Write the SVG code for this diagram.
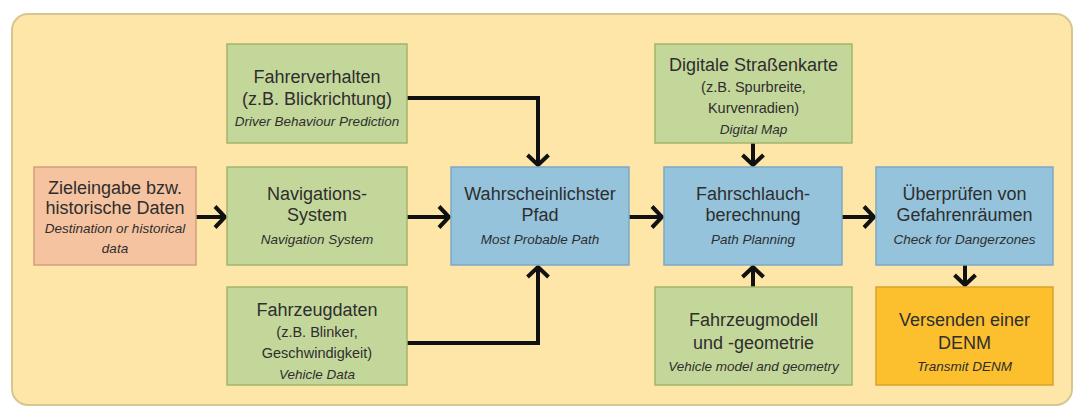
<svg xmlns="http://www.w3.org/2000/svg" width="1076" height="410" viewBox="0 0 1076 410">
<defs>
<marker id="ah" viewBox="0 0 16 26" refX="12" refY="13" markerWidth="16" markerHeight="26" markerUnits="userSpaceOnUse" orient="auto">
<path d="M2,2.5 L12,13 L2,23.5" fill="none" stroke="#111" stroke-width="4"/>
</marker>
</defs>
<style>
.g{fill:#c4d79b;stroke:#a3b56a;stroke-width:1.5}
.b{fill:#95c3dc;stroke:#7ea9c2;stroke-width:1.5}
.o{fill:#f6c3a0;stroke:#d4a079;stroke-width:1.5}
.y{fill:#fcc02e;stroke:#d9a22a;stroke-width:1.5}
text{font-family:"Liberation Sans",Arial,sans-serif;text-anchor:middle;fill:#2e2e2e}
.m{font-size:18px}
.s{font-size:14.5px}
.i{font-size:13.5px;font-style:italic}
.c{fill:none;stroke:#111;stroke-width:4;marker-end:url(#ah)}
</style>
<rect x="12" y="14" width="1060" height="391" rx="16" fill="#fde6a8" stroke="#d8c691" stroke-width="2"/>
<g id="connectors">
<path class="c" d="M407,98 H538 V165"/>
<path class="c" d="M407,343 H538 V267"/>
<path class="c" d="M196,217 H225"/>
<path class="c" d="M407,217 H449"/>
<path class="c" d="M629,217 H662"/>
<path class="c" d="M842,217 H874"/>
<path class="c" d="M753,143 V165"/>
<path class="c" d="M753,287 V267"/>
<path class="c" d="M965,265 V285"/>
</g>
<g id="fahrerverhalten">
<rect class="g" x="227" y="44" width="180" height="99"/>
<text class="m" x="317" y="83">Fahrerverhalten</text>
<text class="m" x="317" y="105">(z.B. Blickrichtung)</text>
<text class="i" x="317" y="126">Driver Behaviour Prediction</text>
</g>
<g id="zieleingabe">
<rect class="o" x="34" y="167" width="162" height="98"/>
<text class="m" x="115" y="194">Zieleingabe bzw.</text>
<text class="m" x="115" y="214">historische Daten</text>
<text class="i" x="115" y="233">Destination or historical</text>
<text class="i" x="115" y="253">data</text>
</g>
<g id="navigation">
<rect class="g" x="227" y="167" width="180" height="98"/>
<text class="m" x="317" y="200">Navigations-</text>
<text class="m" x="317" y="221">System</text>
<text class="i" x="317" y="244">Navigation System</text>
</g>
<g id="fahrzeugdaten">
<rect class="g" x="227" y="287" width="180" height="98"/>
<text class="m" x="317" y="316">Fahrzeugdaten</text>
<text class="s" x="317" y="337">(z.B. Blinker,</text>
<text class="s" x="317" y="358">Geschwindigkeit)</text>
<text class="i" x="317" y="379">Vehicle Data</text>
</g>
<g id="wahrscheinlichster">
<rect class="b" x="451" y="167" width="178" height="98"/>
<text class="m" x="540" y="200">Wahrscheinlichster</text>
<text class="m" x="540" y="221">Pfad</text>
<text class="i" x="540" y="244">Most Probable Path</text>
</g>
<g id="digitale">
<rect class="g" x="655" y="44" width="197" height="99"/>
<text class="m" x="753.5" y="71">Digitale Straßenkarte</text>
<text class="s" x="753.5" y="92">(z.B. Spurbreite,</text>
<text class="s" x="753.5" y="113">Kurvenradien)</text>
<text class="i" x="753.5" y="134">Digital Map</text>
</g>
<g id="fahrschlauch">
<rect class="b" x="664" y="167" width="178" height="98"/>
<text class="m" x="753" y="200">Fahrschlauch-</text>
<text class="m" x="753" y="221">berechnung</text>
<text class="i" x="753" y="244">Path Planning</text>
</g>
<g id="ueberpruefen">
<rect class="b" x="876" y="167" width="177" height="98"/>
<text class="m" x="964.5" y="200">Überprüfen von</text>
<text class="m" x="964.5" y="221">Gefahrenräumen</text>
<text class="i" x="964.5" y="244">Check for Dangerzones</text>
</g>
<g id="fahrzeugmodell">
<rect class="g" x="655" y="287" width="197" height="98"/>
<text class="m" x="753.5" y="326">Fahrzeugmodell</text>
<text class="m" x="753.5" y="349">und -geometrie</text>
<text class="i" x="753.5" y="371">Vehicle model and geometry</text>
</g>
<g id="versenden">
<rect class="y" x="876" y="287" width="177" height="98"/>
<text class="m" x="964.5" y="326">Versenden einer</text>
<text class="m" x="964.5" y="349">DENM</text>
<text class="i" x="964.5" y="371">Transmit DENM</text>
</g>
</svg>
